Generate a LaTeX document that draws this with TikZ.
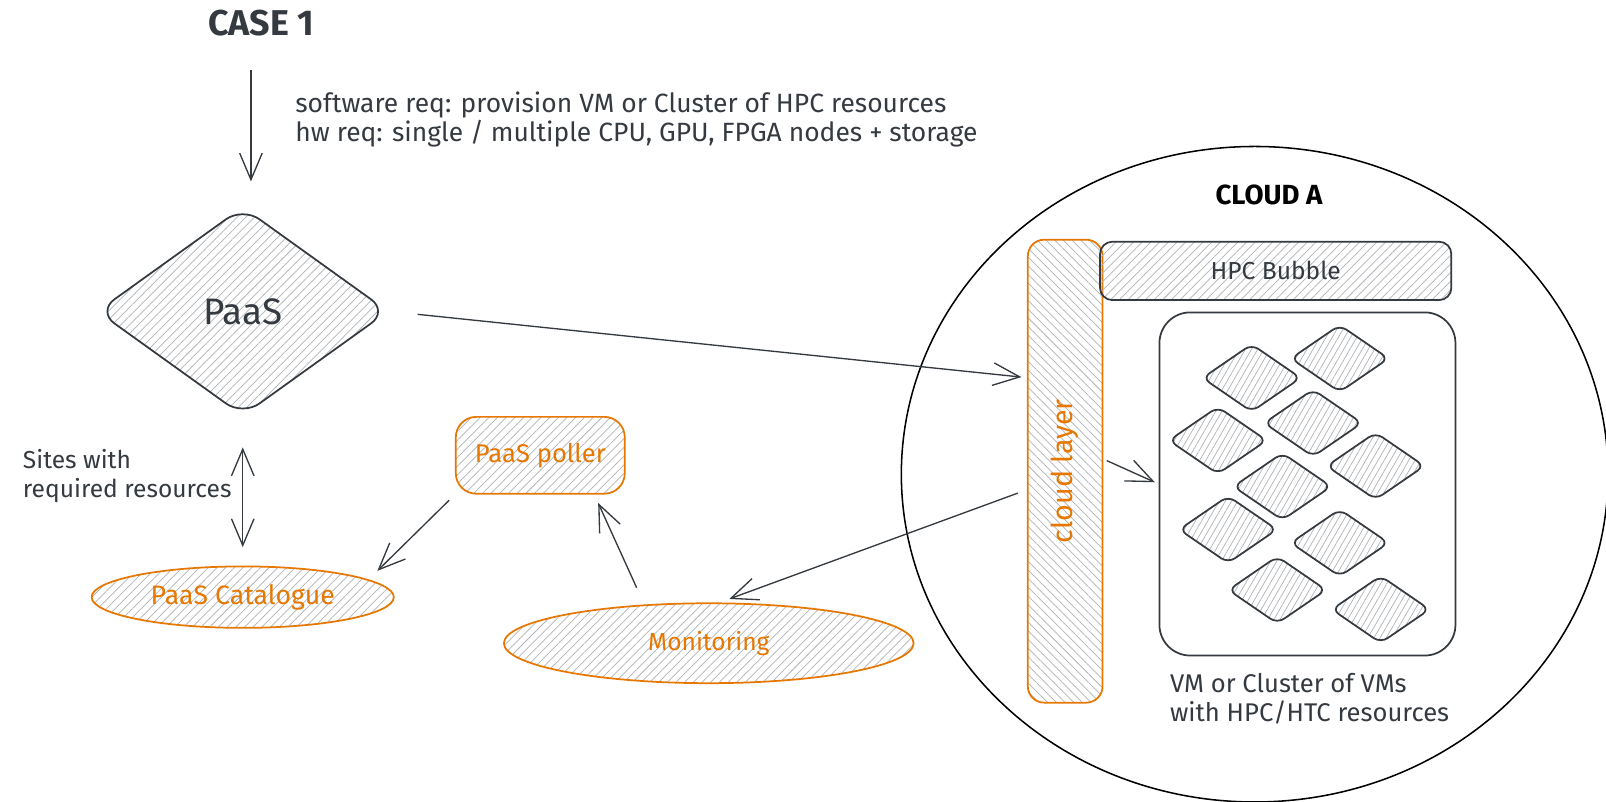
\documentclass[tikz,border=0pt]{standalone}
\usepackage{fontspec}
\setmainfont{Fira Sans}
\usetikzlibrary{arrows.meta,shapes.geometric,patterns.meta}
\definecolor{ink}{HTML}{343A40}
\definecolor{orng}{HTML}{E67700}
\definecolor{hatch}{HTML}{B0B4B8}
\begin{document}
\begin{tikzpicture}[x=0.5pt,y=-0.5pt,
  hatchA/.style={pattern={Lines[angle=45,distance=3pt,line width=0.35pt]}, pattern color=hatch},
  hatchB/.style={pattern={Lines[angle=-45,distance=3pt,line width=0.35pt]}, pattern color=hatch},
  hatchC/.style={pattern={Lines[angle=60,distance=2.6pt,line width=0.35pt]}, pattern color=hatch},
  shp/.style={line width=0.85pt, inner sep=0pt},
  arr/.style={draw=ink, line width=0.65pt, -{Straight Barb[length=13pt,width=11pt]}},
  darr/.style={draw=ink, line width=0.65pt, {Straight Barb[length=13pt,width=11pt]}-{Straight Barb[length=13pt,width=11pt]}},
  lbl/.style={text=ink, inner sep=0pt},
  olbl/.style={text=orng},
  smalld/.style={diamond, shp, draw=ink, hatchC, minimum width=48pt, minimum height=33pt, rounded corners=4pt},
]
\useasboundingbox (0,0) rectangle (1568,783);
\fill[white] (0,0) rectangle (1568,783);

% Cloud A
\node[ellipse, draw=black, line width=0.75pt, inner sep=0pt, minimum width=345pt, minimum height=320pt] (cloud) at (1225,463) {};
\node[text=black, font=\fontsize{13.5}{16}\selectfont\bfseries] (cloudlbl) at (1239,190) {CLOUD A};

\node[shp, draw=orng, hatchB, rounded corners=8pt, minimum width=36.5pt, minimum height=226pt] (cl) at (1040,460) {};
\node[rotate=90, text=orng, font=\fontsize{14}{16}\selectfont] (cltxt) at (cl.center) {cloud layer};

\node[shp, draw=ink, hatchA, rounded corners=6pt, minimum width=171.5pt, minimum height=28.5pt, text=ink, font=\fontsize{12}{14}\selectfont] (hpc) at (1245.5,264.5) {HPC Bubble};
\node[shp, draw=ink, fill=white, rounded corners=15pt, minimum width=144.5pt, minimum height=167.5pt] (vmbox) at (1276.5,472.5) {};

\node[smalld] (d1) at (1222,369) {};
\node[smalld] (d2) at (1308,350) {};
\node[smalld] (d3) at (1189,430) {};
\node[smalld] (d4) at (1282,413) {};
\node[smalld] (d5) at (1343,455) {};
\node[smalld] (d6) at (1252,475) {};
\node[smalld] (d7) at (1199,517) {};
\node[smalld] (d8) at (1308,530) {};
\node[smalld] (d9) at (1247,576) {};
\node[smalld] (d10) at (1348,595) {};

\node[lbl, anchor=west, align=left, font=\fontsize{12.5}{14}\selectfont] (vmlbl) at (1142,682) {VM or Cluster of VMs\\with HPC/HTC resources};

% Left part
\node[lbl, font=\fontsize{17.5}{21}\selectfont\bfseries] (case) at (255,23) {CASE 1};
\node[lbl, anchor=west, align=left, font=\fontsize{12.9}{14}\selectfont] (req) at (288,117) {software req: provision VM or Cluster of HPC resources\\hw req: single / multiple CPU, GPU, FPGA nodes + storage};

\node[diamond, shp, draw=ink, hatchA, aspect=1.4, rounded corners=10pt, minimum width=142pt, minimum height=102pt, text=ink, font=\fontsize{18}{20}\selectfont] (paas) at (237,304) {PaaS};

\node[lbl, anchor=west, align=left, font=\fontsize{12}{14}\selectfont] (sites) at (22,465) {Sites with\\required resources};

\node[ellipse, shp, draw=orng, hatchA, minimum width=147.5pt, minimum height=30pt, olbl, font=\fontsize{13}{15}\selectfont] (cat) at (237,583) {PaaS Catalogue};
\node[rectangle, shp, draw=orng, hatchA, rounded corners=10pt, minimum width=82.5pt, minimum height=37.5pt, olbl, font=\fontsize{12.5}{15}\selectfont] (poller) at (527.5,444.5) {PaaS poller};
\node[ellipse, shp, draw=orng, hatchA, minimum width=200pt, minimum height=39pt, olbl, font=\fontsize{12}{15}\selectfont] (mon) at (692,628) {Monitoring};

% connectors
\coordinate (reqtail) at (245,68);
\draw[arr, shorten >=12pt] (reqtail) -- (reqtail |- paas.north);
\draw[arr, shorten <=14pt, shorten >=3pt] (paas.east) -- (cl.112);
\draw[darr, shorten <=15pt, shorten >=9pt] (paas.south) -- (cat.north);
\draw[arr, shorten <=4pt, shorten >=6pt] (poller.south west) -- (cat.8);
\draw[arr, shorten <=9pt, shorten >=4.5pt] (mon.149) -- (poller.-36);
\draw[arr, shorten <=5pt, shorten >=5pt] (cl.206) -- (mon.75);
\draw[arr, shorten <=2pt, shorten >=2pt] (cl.18) -- (vmbox.west);
\end{tikzpicture}
\end{document}
